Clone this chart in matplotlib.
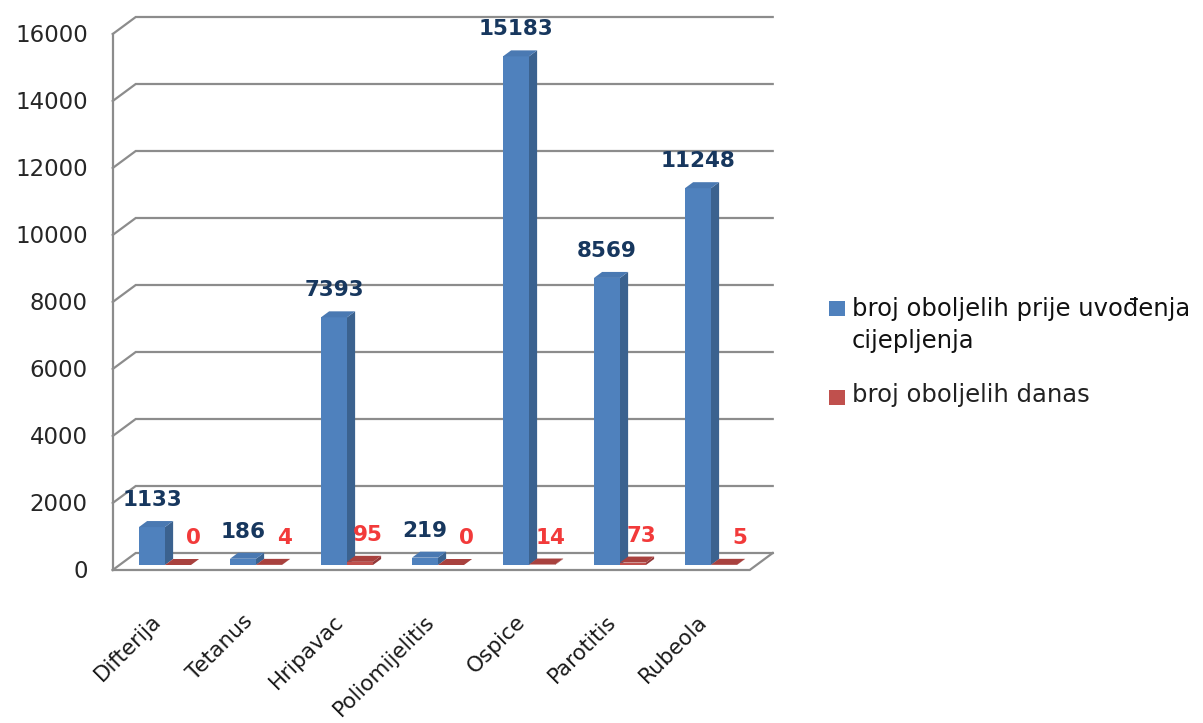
import matplotlib
matplotlib.use("Agg")
import matplotlib.pyplot as plt
from matplotlib.patches import Polygon, Rectangle
import matplotlib.transforms as mtransforms

# ---------------- data ----------------
categories = ["Difterija", "Tetanus", "Hripavac", "Poliomijelitis", "Ospice", "Parotitis", "Rubeola"]
before_vacc = [1133, 186, 7393, 219, 15183, 8569, 11248]
today = [0, 4, 95, 0, 14, 73, 5]
series_names = ["broj oboljelih prije uvođenja\ncijepljenja", "broj oboljelih danas"]
yticks = [0, 2000, 4000, 6000, 8000, 10000, 12000, 14000, 16000]

# ---------------- style / layout ----------------
W, H, DPI = 1203, 723, 100
PX_PER_CAT = 91.0          # pixels per category
PX_PER_UNIT = 536.0 / 16000  # pixels per value unit
X0_PX, Y0_PX = 165.0, 565.0  # pixel of (cat 0 center, value 0) at bar-front plane
DEPTH_X, DEPTH_Y = 23.0, 17.0  # pixel shift front floor -> back wall
D_FRONT = -5.0 / 17          # floor front relative to bar front plane
D_BACK = 1 + D_FRONT         # back wall
BAR_DEPTH = 6.0 / 17
BAR_W = 26.0 / PX_PER_CAT

blue_front, blue_side, blue_top = "#4F81BD", "#3B628F", "#4A79B2"
red_front, red_side, red_top = "#C0504D", "#93393A", "#A8413E"
grid_col = "#8C8C8C"
blue_lbl, red_lbl = "#17375E", "#F23A3A"

plt.rcParams['font.family'] = ['DejaVu Sans']

fig = plt.figure(figsize=(W / DPI, H / DPI), dpi=DPI)
ax = fig.add_axes([0, 0, 1, 1])
ax.set_xlim((0 - X0_PX) / PX_PER_CAT, (W - X0_PX) / PX_PER_CAT)
ax.set_ylim((Y0_PX - H) / PX_PER_UNIT, Y0_PX / PX_PER_UNIT)
ax.axis("off")


def dx(d):
    return DEPTH_X * d / PX_PER_CAT


def dy(d):
    return DEPTH_Y * d / PX_PER_UNIT


def P(x, v, d):
    return (x + dx(d), v + dy(d))


def offs(px, py):
    return mtransforms.offset_copy(ax.transData, fig=fig, x=px, y=py, units='dots')


n = len(categories)
xl, xr = -0.5, n - 0.5
lw = 1.6

# back wall gridlines + left wall diagonals
for v in yticks:
    a = P(xl, v, D_FRONT); b = P(xl, v, D_BACK); c = P(xr, v, D_BACK)
    ax.plot([a[0], b[0], c[0]], [a[1], b[1], c[1]], color=grid_col, lw=lw,
            solid_joinstyle='miter', zorder=1)
# front left vertical axis
a = P(xl, 0, D_FRONT); b = P(xl, yticks[-1], D_FRONT)
ax.plot([a[0], b[0]], [a[1], b[1]], color=grid_col, lw=lw, zorder=1)
# floor front and right edge
a = P(xl, 0, D_FRONT); b = P(xr, 0, D_FRONT); c = P(xr, 0, D_BACK)
ax.plot([a[0], b[0], c[0]], [a[1], b[1], c[1]], color=grid_col, lw=lw,
        solid_joinstyle='miter', zorder=1)

# y tick labels
for v in yticks:
    x, y = P(xl, v, D_FRONT)
    ax.text(x, y, f"{v}", transform=offs(-25, -2), ha="right", va="center",
            fontsize=16.5, color="#262626")


def bar3d(x0, v, front, side, top, z):
    x1 = x0 + BAR_W
    ax.add_patch(Polygon([P(x0, 0, 0), P(x1, 0, 0), P(x1, v, 0), P(x0, v, 0)],
                         closed=True, facecolor=front, edgecolor='none', zorder=z))
    ax.add_patch(Polygon([P(x1, 0, 0), P(x1, 0, BAR_DEPTH), P(x1, v, BAR_DEPTH), P(x1, v, 0)],
                         closed=True, facecolor=side, edgecolor='none', zorder=z))
    ax.add_patch(Polygon([P(x0, v, 0), P(x1, v, 0), P(x1, v, BAR_DEPTH), P(x0, v, BAR_DEPTH)],
                         closed=True, facecolor=top, edgecolor='none', zorder=z))


for i in range(n):
    bar3d(i - BAR_W, before_vacc[i], blue_front, blue_side, blue_top, 3 + 2 * i)
    bar3d(i, today[i], red_front, red_side, red_top, 4 + 2 * i)

# value labels
for i in range(n):
    ax.text(i - BAR_W / 2, before_vacc[i], f"{before_vacc[i]}", transform=offs(0, 21),
            ha="center", va="baseline", fontsize=15.5, fontweight="bold", color=blue_lbl, zorder=30)
    ax.text(i + BAR_W / 2, today[i], f"{today[i]}", transform=offs(23, 21),
            ha="right", va="baseline", fontsize=15.5, fontweight="bold", color=red_lbl, zorder=30)

# category labels
for i, c in enumerate(categories):
    ax.text(i, 0, c, transform=offs(-14, -46), ha="right", va="top", rotation=45,
            rotation_mode="anchor", fontsize=15.5, color="#1A1A1A")

# legend (manual)
fig_tr = fig.transFigure
def fx(px):
    return px / W
def fy(py):
    return 1 - py / H

fig.patches.append(Rectangle((fx(829), fy(316)), 16 / W, 15 / H, transform=fig_tr,
                             facecolor=blue_front, edgecolor='none'))
fig.patches.append(Rectangle((fx(829), fy(405)), 16 / W, 15 / H, transform=fig_tr,
                             facecolor=red_front, edgecolor='none'))
fig.text(fx(852), fy(316), series_names[0].split("\n")[0], ha="left", va="baseline",
         fontsize=17.5, color="#111111")
fig.text(fx(852), fy(348), series_names[0].split("\n")[1], ha="left", va="baseline",
         fontsize=17.5, color="#111111")
fig.text(fx(852), fy(402), series_names[1], ha="left", va="baseline",
         fontsize=17.5, color="#222222")

fig.savefig("out.png", dpi=DPI, facecolor="white")
